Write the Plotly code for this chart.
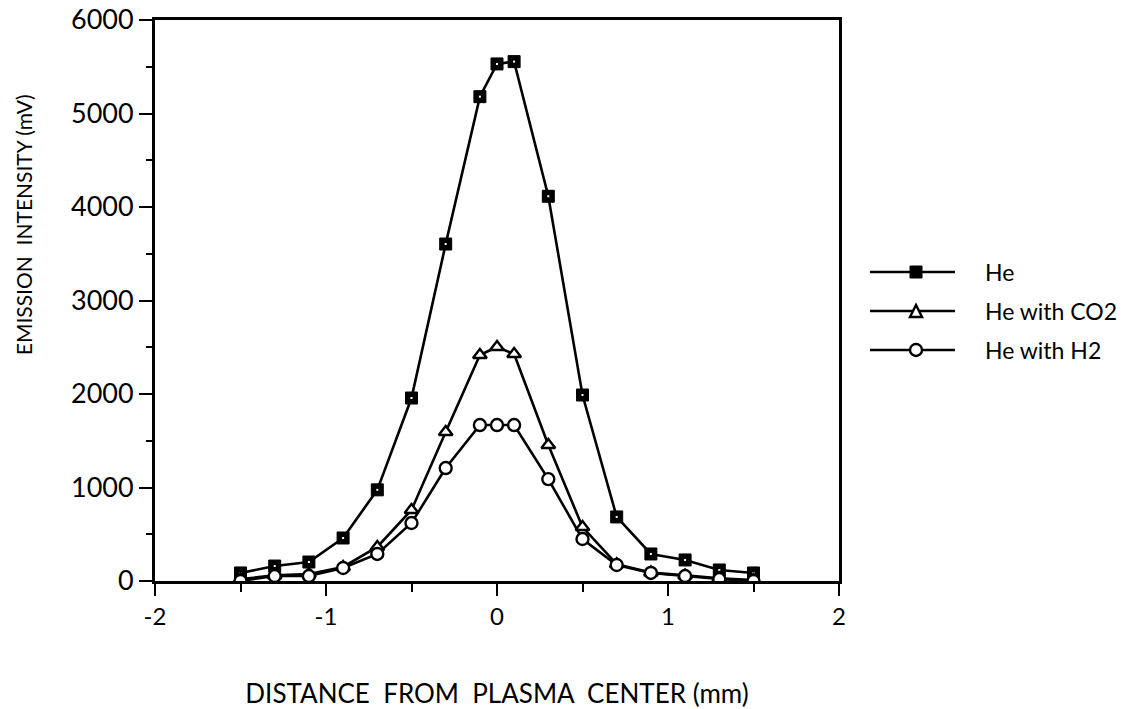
import plotly.graph_objects as go

x_mm = [-1.5, -1.3, -1.1, -0.9, -0.7, -0.5, -0.3, -0.1, 0.0, 0.1, 0.3, 0.5, 0.7, 0.9, 1.1, 1.3, 1.5]
he = [86, 160, 203, 460, 975, 1957, 3604, 5180, 5530, 5555, 4115, 1989, 685, 289, 225, 118, 86]
he_co2 = [20, 60, 75, 150, 364, 760, 1594, 2417, 2503, 2428, 1455, 577, 180, 90, 60, 30, 10]
he_h2 = [0, 53, 53, 139, 289, 620, 1208, 1668, 1668, 1668, 1090, 449, 171, 86, 53, 21, 0]

series_names = ["He", "He with CO2", "He with H2"]
x_ticks = [-2, -1, 0, 1, 2]
y_ticks = [0, 1000, 2000, 3000, 4000, 5000, 6000]

fig = go.Figure()
LW = 2.6
fig.add_trace(go.Scatter(x=x_mm, y=he, mode="lines+markers", name=series_names[0],
                         line=dict(color="black", width=LW),
                         marker=dict(symbol="square", size=12, color="black",
                                     line=dict(color="black", width=1)),
                         showlegend=False))
fig.add_trace(go.Scatter(x=x_mm, y=he, mode="markers", hoverinfo="skip",
                         marker=dict(symbol="square", size=2, color="white"),
                         showlegend=False))
fig.add_trace(go.Scatter(x=x_mm, y=he_co2, mode="lines+markers", name=series_names[1],
                         line=dict(color="black", width=LW),
                         marker=dict(symbol="triangle-up", size=12, color="white",
                                     line=dict(color="black", width=2.4)),
                         showlegend=False))
fig.add_trace(go.Scatter(x=x_mm, y=he_h2, mode="lines+markers", name=series_names[2],
                         line=dict(color="black", width=LW),
                         marker=dict(symbol="circle", size=12, color="white",
                                     line=dict(color="black", width=2.4)),
                         showlegend=False))

# custom legend (paper coordinates)
leg_y = [0.5508, 0.4813, 0.4118]
x0, x1, xm, xt = 1.0453, 1.1696, 1.1126, 1.2105
for i, name in enumerate(series_names):
    fig.add_shape(type="line", xref="paper", yref="paper", x0=x0, x1=x1, y0=leg_y[i], y1=leg_y[i],
                  line=dict(color="black", width=2.6))
    fig.add_annotation(xref="paper", yref="paper", x=xt, y=leg_y[i], text=name, showarrow=False,
                       xanchor="left", yanchor="middle",
                       font=dict(family="Lato", size=23, color="black"))
dx = 6 / 684
dy = 6 / 561
ym = leg_y[0]
fig.add_shape(type="rect", xref="paper", yref="paper", x0=xm - dx, x1=xm + dx, y0=ym - dy, y1=ym + dy,
              fillcolor="black", line=dict(color="black", width=1))
ym = leg_y[1]
fig.add_shape(type="path", xref="paper", yref="paper",
              path=f"M {xm - dx} {ym - dy} L {xm + dx} {ym - dy} L {xm} {ym + dy} Z",
              fillcolor="white", line=dict(color="black", width=2.4))
ym = leg_y[2]
fig.add_shape(type="circle", xref="paper", yref="paper", x0=xm - dx, x1=xm + dx, y0=ym - dy, y1=ym + dy,
              fillcolor="white", line=dict(color="black", width=2.4))

# y-axis title (placed like the reference, above the axis centre)
fig.add_annotation(xref="paper", yref="paper", x=-0.193, y=0.636, text="EMISSION  INTENSITY (mV)",
                   textangle=-90, showarrow=False, xanchor="center", yanchor="middle",
                   font=dict(family="Lato", size=21, color="black"))

fig.update_layout(
    width=1144, height=709,
    margin=dict(l=155, r=305, t=20, b=128),
    paper_bgcolor="white", plot_bgcolor="white",
    font=dict(family="Lato", color="black"),
    xaxis=dict(range=[-2, 2], tickvals=x_ticks, ticktext=[str(v) if v >= 0 else "-" + str(-v) for v in x_ticks],
               showgrid=False, zeroline=False, showline=True, linecolor="black", linewidth=2.8,
               mirror=True, ticks="outside", ticklen=12, tickwidth=2, tickcolor="black",
               minor=dict(dtick=0.5, ticks="outside", ticklen=8, tickwidth=2, tickcolor="black"),
               tickfont=dict(family="Lato", size=24), automargin=False,
               title=dict(text="DISTANCE  FROM  PLASMA  CENTER (mm)", standoff=57,
                          font=dict(family="Lato", size=26))),
    yaxis=dict(range=[0, 6000], tickvals=y_ticks, showgrid=False, zeroline=False,
               showline=True, linecolor="black", linewidth=2.8, mirror=True,
               ticks="outside", ticklen=13, tickwidth=2, tickcolor="black",
               minor=dict(dtick=500, ticks="outside", ticklen=6, tickwidth=2, tickcolor="black"),
               tickfont=dict(family="Lato", size=27), automargin=False),
)

fig.write_html("out.html")
